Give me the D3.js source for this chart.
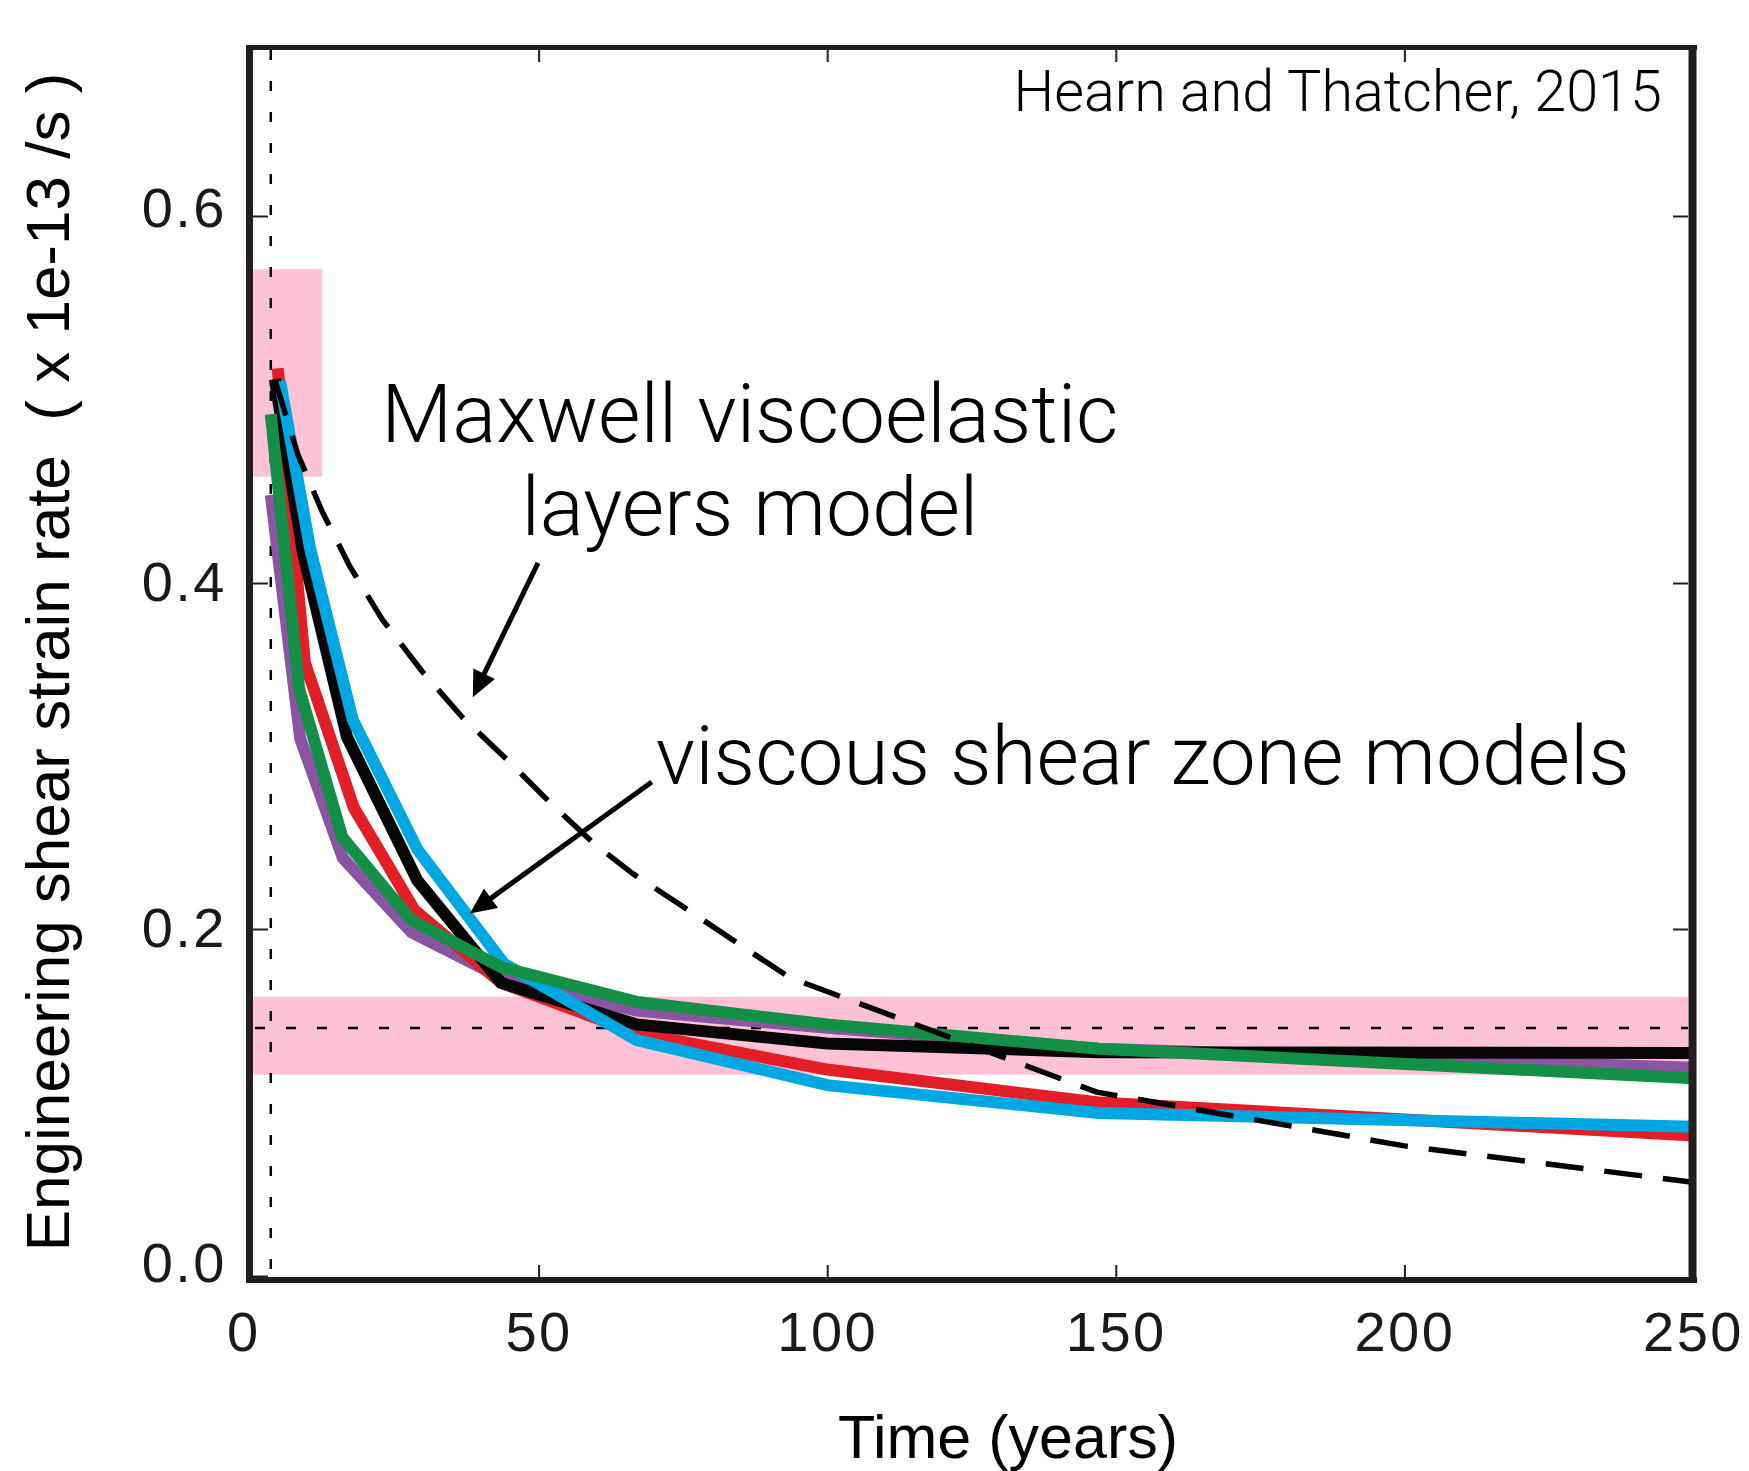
<!DOCTYPE html>
<html><head><meta charset="utf-8">
<script src="https://cdn.jsdelivr.net/npm/d3@7"></script>
<style>
html,body{margin:0;padding:0;background:#fff;}
svg{display:block;}
</style></head><body>
<svg id="chart" width="1749" height="1471"></svg>
<script>
// ---------------- data ----------------
const xTicks = [0, 50, 100, 150, 200, 250];
const xTickLabels = ["0", "50", "100", "150", "200", "250"];
const yTicks = [0, 0.2, 0.4, 0.6];
const yTickLabels = ["0.0", "0.2", "0.4", "0.6"];

const purpleTimes = [3.6, 8.7, 16.1, 28, 43.5, 67, 100, 147, 250];
const purpleValues = [0.448, 0.310, 0.241, 0.198, 0.172, 0.153, 0.143, 0.131, 0.120];
const redTimes = [4.8, 9.5, 18, 28.5, 43.5, 67, 100, 147, 250];
const redValues = [0.517, 0.354, 0.270, 0.211, 0.169, 0.140, 0.119, 0.100, 0.081];
const blackTimes = [4.3, 9.2, 16.8, 29, 43.5, 67, 100, 147, 250];
const blackValues = [0.511, 0.416, 0.311, 0.228, 0.169, 0.145, 0.134, 0.129, 0.1285];
const blueTimes = [5.2, 10.4, 17.8, 29, 44, 67, 100, 147, 250];
const blueValues = [0.510, 0.419, 0.321, 0.246, 0.180, 0.136, 0.110, 0.094, 0.086];
const greenTimes = [3.6, 8.5, 16, 28, 43.5, 67, 100, 147, 250];
const greenValues = [0.492, 0.339, 0.253, 0.205, 0.178, 0.158, 0.145, 0.131, 0.114];

const maxwellTimes = [4.3, 8.3, 12.5, 17.3, 22.9, 29.8, 36.9, 44.5, 52, 59.4, 66.3, 75, 84.4, 93.5, 146.7, 200, 250];
const maxwellValues = [0.511, 0.470, 0.439, 0.409, 0.379, 0.349, 0.322, 0.298, 0.273, 0.250, 0.232, 0.213, 0.192, 0.172, 0.106, 0.075, 0.054];

const observedRate = 0.143;
const observedBand = [0.116, 0.161];
const earlyBandTimes = [0, 12.5];
const earlyBandValues = [0.458, 0.571];
const onsetTime = 3.6;

// ---------------- layout ----------------
const svg = d3.select("#chart");
const x = d3.scaleLinear().domain([0, 250]).range([250, 1693]);
const y = d3.scaleLinear().domain([0, 0.2, 0.4, 0.6, 0.692]).range([1276, 929, 583, 216, 47]);
const axisColor = "#231f20";
const pink = "#fdc2d6";
const fontLight = "Roboto, 'Liberation Sans', sans-serif";
const fontReg = "'Liberation Sans', Arial, sans-serif";

const innerLeft = 253, innerRight = 1688, innerTop = 50, innerBottom = 1277;

// pink bands
svg.append("rect")
  .attr("x", innerLeft).attr("width", innerRight - innerLeft)
  .attr("y", y(observedBand[1])).attr("height", y(observedBand[0]) - y(observedBand[1]))
  .attr("fill", pink);
svg.append("rect")
  .attr("x", innerLeft).attr("width", x(earlyBandTimes[1]) - innerLeft)
  .attr("y", y(earlyBandValues[1])).attr("height", y(earlyBandValues[0]) - y(earlyBandValues[1]))
  .attr("fill", pink);

// dotted reference lines
svg.append("line")
  .attr("x1", innerLeft + 2).attr("x2", innerRight)
  .attr("y1", y(observedRate)).attr("y2", y(observedRate))
  .attr("stroke", "#000").attr("stroke-width", 2.5).attr("stroke-dasharray", "10,21");
svg.append("line")
  .attr("x1", x(onsetTime)).attr("x2", x(onsetTime))
  .attr("y1", innerTop).attr("y2", innerBottom)
  .attr("stroke", "#000").attr("stroke-width", 2.5).attr("stroke-dasharray", "10,21");

// axes ticks (inward)
const gL = svg.append("g").attr("transform", `translate(${innerLeft},0)`)
  .call(d3.axisLeft(y).tickValues(yTicks).tickFormat((d, i) => yTickLabels[i]).tickSize(-15).tickPadding(26));
const gR = svg.append("g").attr("transform", `translate(${innerRight},0)`)
  .call(d3.axisRight(y).tickValues(yTicks.slice(1)).tickFormat("").tickSize(-15));
const gB = svg.append("g").attr("transform", `translate(0,${innerBottom})`)
  .call(d3.axisBottom(x).tickValues(xTicks).tickFormat((d, i) => xTickLabels[i]).tickSize(-12).tickPadding(34));
const gT = svg.append("g").attr("transform", `translate(0,${innerTop})`)
  .call(d3.axisTop(x).tickValues(xTicks.slice(1, -1)).tickFormat("").tickSize(-12));
[gL, gR, gB, gT].forEach(g => {
  g.select(".domain").remove();
  g.selectAll(".tick line").attr("stroke", axisColor).attr("stroke-width", 2);
  g.selectAll(".tick text").attr("fill", "#1a1a1a").style("font-family", fontReg).style("font-size", "56px").style("letter-spacing", "2.5px");
});
gL.selectAll(".tick text").filter(d => d === 0).attr("dy", "0.1em");
gL.selectAll(".tick text").filter(d => d === 0.6).attr("dy", "0.18em");
gB.selectAll(".tick text").filter(d => d === 0).attr("dx", "-0.12em");

// model curves
const line = d3.line().x(d => x(d[0])).y(d => y(d[1]));
const series = [
  { times: purpleTimes, values: purpleValues, color: "#8a54a2" },
  { times: redTimes, values: redValues, color: "#e21f26" },
  { times: blackTimes, values: blackValues, color: "#050505" },
  { times: blueTimes, values: blueValues, color: "#00a7e3" },
  { times: greenTimes, values: greenValues, color: "#139046" }
];
series.forEach(s => {
  svg.append("path")
    .datum(s.times.map((t, i) => [t, s.values[i]]))
    .attr("d", line)
    .attr("fill", "none").attr("stroke", s.color)
    .attr("stroke-width", 12).attr("stroke-linejoin", "miter").attr("stroke-linecap", "butt");
});

// Maxwell dashed curve
svg.append("path")
  .datum(maxwellTimes.map((t, i) => [t, maxwellValues[i]]))
  .attr("d", line)
  .attr("fill", "none").attr("stroke", "#000")
  .attr("stroke-width", 5.5).attr("stroke-dasharray", "38,21").attr("stroke-linejoin", "round");

// arrows
function arrow(t0, v0, t1, v1) {
  const x0 = x(t0), y0 = y(v0), x1 = x(t1), y1 = y(v1);
  const dx = x1 - x0, dy = y1 - y0, L = Math.hypot(dx, dy);
  const ux = dx / L, uy = dy / L, hl = 26, hw = 12;
  const bx = x1 - ux * hl, by = y1 - uy * hl;
  svg.append("line").attr("x1", x0).attr("y1", y0).attr("x2", bx + ux * 2).attr("y2", by + uy * 2)
    .attr("stroke", "#000").attr("stroke-width", 5);
  svg.append("path")
    .attr("d", `M${x1},${y1}L${bx - uy * hw},${by + ux * hw}L${bx + uy * hw},${by - ux * hw}Z`)
    .attr("fill", "#000");
}
arrow(49.9, 0.411, 38.6, 0.334);
arrow(69.6, 0.285, 38.1, 0.209);

// annotation texts
svg.append("text").attr("x", x(86.6)).attr("y", y(0.477)).attr("text-anchor", "middle")
  .style("font-family", fontLight).style("font-weight", 300).style("font-size", "82px").attr("fill", "#000")
  .text("Maxwell viscoelastic");
svg.append("text").attr("x", x(86.6)).attr("y", y(0.426)).attr("text-anchor", "middle")
  .style("font-family", fontLight).style("font-weight", 300).style("font-size", "82px").attr("fill", "#000")
  .text("layers model");
svg.append("text").attr("x", x(70.3)).attr("y", y(0.284)).attr("text-anchor", "start")
  .style("font-family", fontLight).style("font-weight", 300).style("font-size", "82px").attr("fill", "#000")
  .text("viscous shear zone models");
svg.append("text").attr("x", x(244.6)).attr("y", y(0.657)).attr("text-anchor", "end")
  .style("font-family", fontLight).style("font-weight", 300).style("font-size", "57.5px").attr("fill", "#000")
  .text("Hearn and Thatcher, 2015");

// axis titles
svg.append("text").attr("transform", "translate(69,662) rotate(-90)").attr("text-anchor", "middle")
  .style("font-family", fontReg).style("font-size", "62px").style("white-space", "pre").attr("fill", "#000")
  .text("Engineering shear strain rate  ( x 1e-13 /s )");
svg.append("text").attr("x", 1008).attr("y", 1458).attr("text-anchor", "middle")
  .style("font-family", fontReg).style("font-size", "61px").attr("fill", "#000")
  .text("Time (years)");

// spines (drawn on top)
svg.append("line").attr("x1", 249.5).attr("x2", 249.5).attr("y1", 45).attr("y2", 1283).attr("stroke", axisColor).attr("stroke-width", 7);
svg.append("line").attr("x1", 1692.5).attr("x2", 1692.5).attr("y1", 45).attr("y2", 1283).attr("stroke", axisColor).attr("stroke-width", 8);
svg.append("line").attr("x1", 246).attr("x2", 1697).attr("y1", 47.5).attr("y2", 47.5).attr("stroke", axisColor).attr("stroke-width", 5);
svg.append("line").attr("x1", 246).attr("x2", 1697).attr("y1", 1280).attr("y2", 1280).attr("stroke", axisColor).attr("stroke-width", 6);
</script>
</body></html>
